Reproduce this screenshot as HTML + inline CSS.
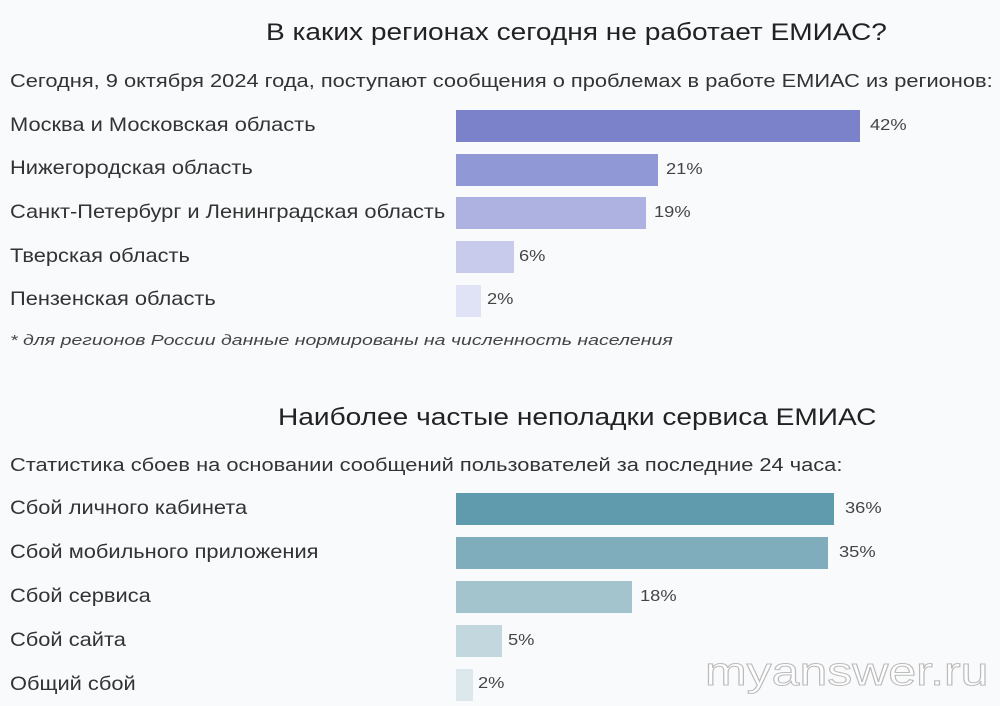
<!DOCTYPE html>
<html><head><meta charset="utf-8"><style>
body{margin:0;width:1000px;height:706px;background:#f9fafc;font-family:"Liberation Sans",sans-serif;color:#333;position:relative;overflow:hidden}
.t{position:absolute;white-space:nowrap;transform-origin:0 50%}
.h{font-size:24px;color:#222;transform:scaleX(1.17)}
.s{font-size:18.5px;color:#333;transform:scaleX(1.18)}
.l{font-size:19.5px;color:#333;left:10px;transform:scaleX(1.12)}
.b{position:absolute;left:456px;height:32px}
.v{font-size:15.5px;color:#444;transform:scaleX(1.18)}
</style></head><body>
<div class="t h" style="left:266px;top:19px">В каких регионах сегодня не работает ЕМИАС?</div>
<div class="t s" style="left:10px;top:70px">Сегодня, 9 октября 2024 года, поступают сообщения о проблемах в работе ЕМИАС из регионов:</div>
<div class="t l" style="top:114px">Москва и Московская область</div>
<div class="t l" style="top:157px">Нижегородская область</div>
<div class="t l" style="top:201px">Санкт-Петербург и Ленинградская область</div>
<div class="t l" style="top:245px">Тверская область</div>
<div class="t l" style="top:288px">Пензенская область</div>
<div class="b" style="top:110px;width:404px;background:#7b82c9"></div>
<div class="b" style="top:154px;width:202px;background:#9198d6"></div>
<div class="b" style="top:197px;width:190px;background:#adb2e0"></div>
<div class="b" style="top:241px;width:58px;background:#c8cbec"></div>
<div class="b" style="top:285px;width:25px;background:#e0e2f5"></div>
<div class="t v" style="left:870px;top:117px">42%</div>
<div class="t v" style="left:666px;top:161px">21%</div>
<div class="t v" style="left:654px;top:204px">19%</div>
<div class="t v" style="left:519px;top:248px">6%</div>
<div class="t v" style="left:487px;top:291px">2%</div>
<div class="t" style="left:10px;top:332px;font-size:15px;font-style:italic;color:#444;transform:scaleX(1.3)">* для регионов России данные нормированы на численность населения</div>

<div class="t h" style="left:278px;top:404px;transform:scaleX(1.17)">Наиболее частые неполадки сервиса ЕМИАС</div>
<div class="t s" style="left:10px;top:454px;transform:scaleX(1.18)">Статистика сбоев на основании сообщений пользователей за последние 24 часа:</div>
<div class="t l" style="top:497px">Сбой личного кабинета</div>
<div class="t l" style="top:541px">Сбой мобильного приложения</div>
<div class="t l" style="top:585px">Сбой сервиса</div>
<div class="t l" style="top:629px">Сбой сайта</div>
<div class="t l" style="top:673px">Общий сбой</div>
<div class="b" style="top:493px;width:378px;background:#5f9aad"></div>
<div class="b" style="top:537px;width:372px;background:#80adbb"></div>
<div class="b" style="top:581px;width:176px;background:#a3c4cd"></div>
<div class="b" style="top:625px;width:46px;background:#c2d8de"></div>
<div class="b" style="top:669px;width:17px;background:#dce8eb"></div>
<div class="t v" style="left:845px;top:500px">36%</div>
<div class="t v" style="left:839px;top:544px">35%</div>
<div class="t v" style="left:640px;top:588px">18%</div>
<div class="t v" style="left:508px;top:632px">5%</div>
<div class="t v" style="left:478px;top:675px">2%</div>
<div class="t" style="left:705px;top:650px;font-size:40px;color:#fff;-webkit-text-stroke:1px #bbb;transform:scaleX(1.25)">myanswer.ru</div>
</body></html>
